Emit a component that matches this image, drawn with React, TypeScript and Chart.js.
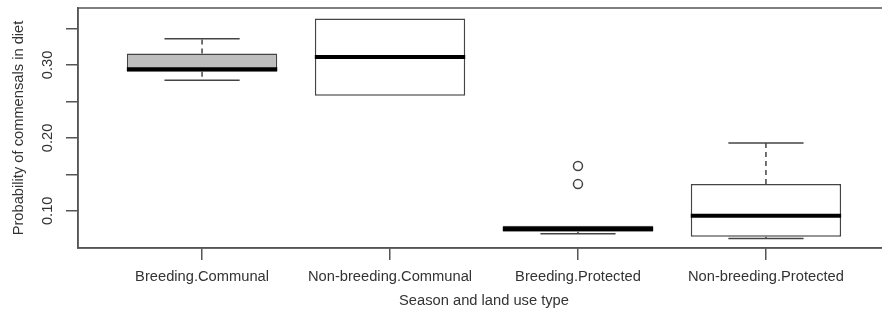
import React, { useEffect, useRef } from 'react';
import { Chart, registerables } from 'chart.js';

Chart.register(...registerables);

// ---- data ----
const categories = ['Breeding.Communal', 'Non-breeding.Communal', 'Breeding.Protected', 'Non-breeding.Protected'];
const xPositions = [1, 2, 3, 4];
const lowerWhisker = [0.279, 0.2576, 0.0685, 0.062];
const q1 = [0.2905, 0.2576, 0.0712, 0.0645];
const median = [0.2942, 0.3107, 0.0749, 0.0931];
const q3 = [0.3157, 0.3637, 0.0794, 0.1366];
const upperWhisker = [0.3357, 0.3637, 0.0794, 0.1928];
const outlierX = [3, 3];
const outlierY = [0.1613, 0.1366];
const yTickValues = [0.1, 0.15, 0.2, 0.25, 0.3, 0.35];
const yTickLabels = ['0.10', '', '0.20', '', '0.30', ''];
const boxColors = ['#bebebe', '#ffffff', '#ffffff', '#ffffff'];

const FONT = 'Liberation Sans, Arial, Helvetica, sans-serif';
const FSIZE = 14.7;
const LINE = '#555555';
const TEXT = '#333333';

export default function App() {
  const ref = useRef<HTMLCanvasElement>(null);

  useEffect(() => {
    if (!ref.current) return;

    const boxExtras = {
      id: 'boxExtras',
      afterDatasetsDraw(chart: any) {
        const { ctx, scales } = chart;
        const x = scales.x;
        const y = scales.y;
        const unit = Math.abs(x.getPixelForValue(2) - x.getPixelForValue(1));
        const half = unit * 0.4;
        const capHalf = unit * 0.2;
        ctx.save();
        for (let i = 0; i < xPositions.length; i++) {
          const cx = x.getPixelForValue(xPositions[i]);
          ctx.strokeStyle = '#444444';
          ctx.lineWidth = 1.5;
          ctx.lineCap = 'butt';
          ctx.setLineDash([5, 4]);
          if (upperWhisker[i] > q3[i]) {
            ctx.beginPath();
            ctx.moveTo(cx, y.getPixelForValue(q3[i]));
            ctx.lineTo(cx, y.getPixelForValue(upperWhisker[i]));
            ctx.stroke();
          }
          if (lowerWhisker[i] < q1[i]) {
            ctx.beginPath();
            ctx.moveTo(cx, y.getPixelForValue(q1[i]));
            ctx.lineTo(cx, y.getPixelForValue(lowerWhisker[i]));
            ctx.stroke();
          }
          ctx.setLineDash([]);
          if (upperWhisker[i] > q3[i]) {
            const py = y.getPixelForValue(upperWhisker[i]);
            ctx.beginPath();
            ctx.moveTo(cx - capHalf, py);
            ctx.lineTo(cx + capHalf, py);
            ctx.stroke();
          }
          if (lowerWhisker[i] < q1[i]) {
            const py = y.getPixelForValue(lowerWhisker[i]);
            ctx.beginPath();
            ctx.moveTo(cx - capHalf, py);
            ctx.lineTo(cx + capHalf, py);
            ctx.stroke();
          }
          // median
          const my = y.getPixelForValue(median[i]);
          ctx.strokeStyle = '#000000';
          ctx.lineWidth = 4;
          ctx.beginPath();
          ctx.moveTo(cx - half, my);
          ctx.lineTo(cx + half, my);
          ctx.stroke();
        }
        ctx.restore();
      },
      afterDraw(chart: any) {
        const { ctx, chartArea } = chart;
        ctx.save();
        ctx.strokeStyle = LINE;
        ctx.lineWidth = 1.5;
        ctx.strokeRect(chartArea.left, chartArea.top, chartArea.right - chartArea.left, chartArea.bottom - chartArea.top);
        ctx.restore();
      },
    };

    const chart = new Chart(ref.current, {
      type: 'bar',
      data: {
        datasets: [
          {
            type: 'bar',
            data: xPositions.map((xv, i) => ({ x: xv, y: [q1[i], q3[i]] })) as any,
            backgroundColor: boxColors,
            borderColor: '#444444',
            borderWidth: 1.5,
            borderSkipped: false,
            barPercentage: 0.8,
            categoryPercentage: 1,
          } as any,
          {
            type: 'scatter',
            data: outlierX.map((xv, i) => ({ x: xv, y: outlierY[i] })),
            pointRadius: 4.5,
            pointBorderColor: '#444444',
            pointBackgroundColor: 'rgba(0,0,0,0)',
            pointBorderWidth: 1.5,
            showLine: false,
          } as any,
        ],
      },
      options: {
        animation: false,
        responsive: false,
        devicePixelRatio: 1,
        layout: { padding: { top: 8, right: 2, left: 0, bottom: 0 } },
        plugins: { legend: { display: false }, tooltip: { enabled: false } },
        scales: {
          x: {
            type: 'linear',
            bounds: 'data',
            min: 0.34,
            max: 4.66,
            offset: false,
            afterBuildTicks: (s: any) => {
              s.ticks = xPositions.map((v) => ({ value: v }));
            },
            afterFit: (s: any) => {
              s.height = 66;
              s.paddingLeft = 0;
              s.paddingRight = 0;
            },
            ticks: {
              autoSkip: false,
              minRotation: 0,
              maxRotation: 0,
              padding: 7.8,
              color: TEXT,
              font: { family: FONT, size: FSIZE },
              callback: (_v: any, i: number) => categories[i],
            },
            grid: { offset: false, drawOnChartArea: false, drawTicks: true, tickLength: 12, color: LINE, lineWidth: 1.5 },
            border: { display: true, color: LINE, width: 1.5 },
            title: {
              display: true,
              text: 'Season and land use type',
              color: TEXT,
              font: { family: FONT, size: FSIZE },
              padding: { top: 0, bottom: 4.2 },
            },
          },
          y: {
            type: 'linear',
            bounds: 'data',
            min: 0.049,
            max: 0.378,
            afterBuildTicks: (s: any) => {
              s.ticks = yTickValues.map((v) => ({ value: v }));
            },
            afterFit: (s: any) => {
              s.width = 78;
              s.paddingTop = 0;
              s.paddingBottom = 0;
            },
            ticks: {
              autoSkip: false,
              minRotation: 90,
              maxRotation: 90,
              crossAlign: 'center',
              padding: 4.2,
              color: TEXT,
              font: { family: FONT, size: FSIZE },
              callback: (_v: any, i: number) => yTickLabels[i],
            },
            grid: { drawOnChartArea: false, drawTicks: true, tickLength: 12, color: LINE, lineWidth: 1.5 },
            border: { display: true, color: LINE, width: 1.5 },
            title: {
              display: true,
              text: 'Probability of commensals in diet',
              color: TEXT,
              font: { family: FONT, size: FSIZE },
              padding: { top: 9.7, bottom: 0 },
            },
          },
        },
      } as any,
      plugins: [boxExtras],
    });

    return () => chart.destroy();
  }, []);

  return (
    <div
      style={{
        position: 'fixed',
        left: 0,
        top: 0,
        width: 882,
        height: 314,
        overflow: 'hidden',
        background: '#ffffff',
      }}
    >
      <canvas ref={ref} width={896} height={314} style={{ display: 'block' }} />
    </div>
  );
}
